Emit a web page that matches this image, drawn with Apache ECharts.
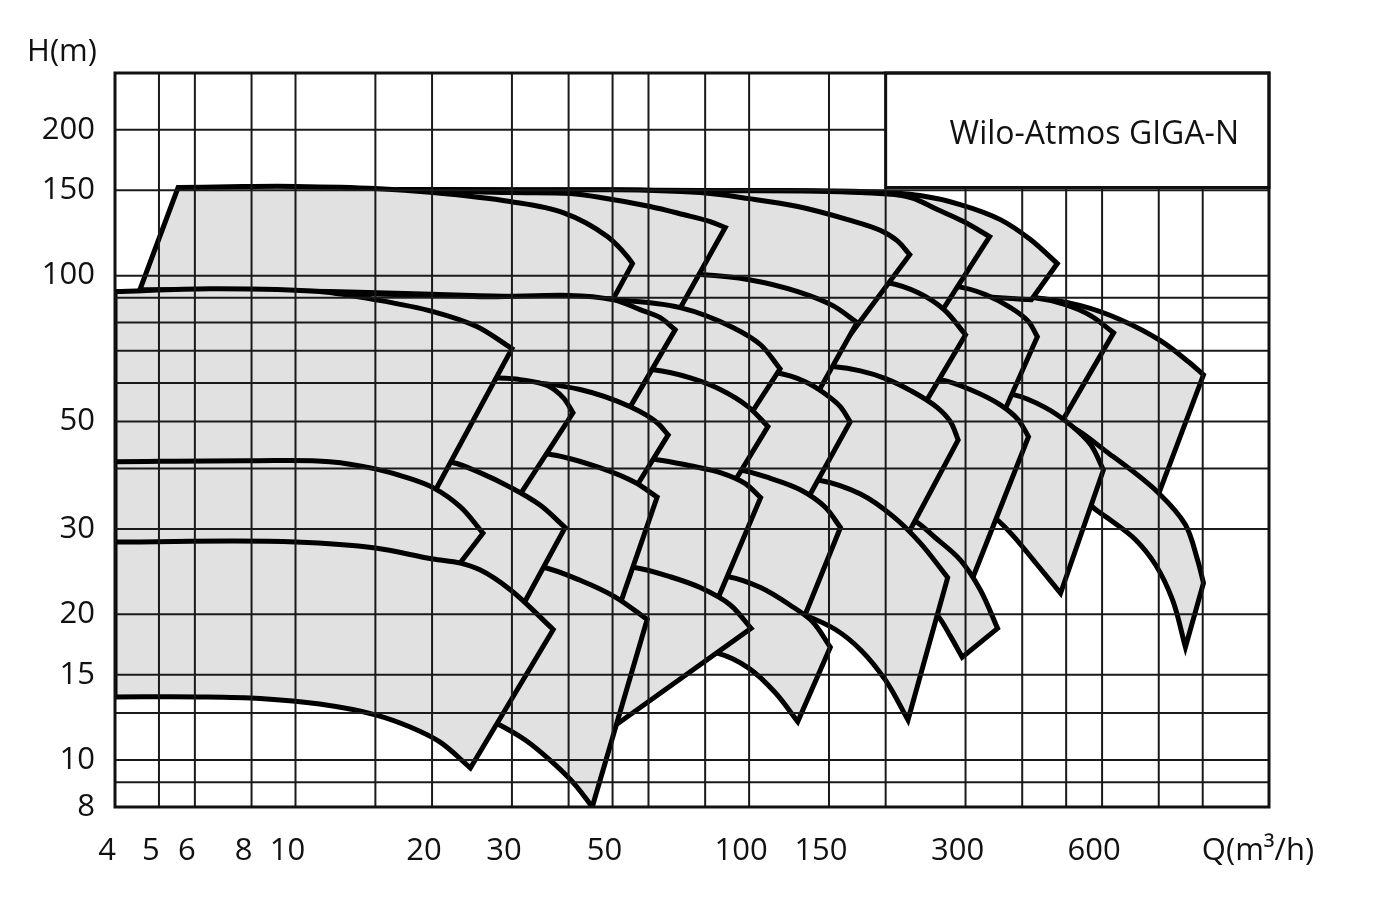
<!DOCTYPE html>
<html>
<head>
<meta charset="utf-8">
<title>Wilo-Atmos GIGA-N</title>
<script src="https://cdn.jsdelivr.net/npm/echarts@6.0.0/dist/echarts.min.js"></script>
<style>
  html, body { margin: 0; padding: 0; background: #fff; }
  #chart { width: 1375px; height: 918px; }
</style>
</head>
<body>
<div id="chart"></div>
<script>
// axis ranges (Q in m3/h, H in m)
const Q_MIN = 4, Q_MAX = 1400;
const H_MIN = 8, H_MAX = 262;

const xGridValues = [5, 6, 8, 10, 15, 20, 30, 40, 50, 60, 80, 100, 150, 200, 300, 400, 500, 600, 800, 1000];
const yGridValues = [9, 10, 12.5, 15, 20, 30, 40, 50, 60, 70, 80, 90, 100, 150, 200];
const xTickLabels = [4, 5, 6, 8, 10, 20, 30, 50, 100, 150, 300, 600];
const yTickLabels = [8, 10, 15, 20, 30, 50, 100, 150, 200];

// pump fields: top = max impeller curve (left to right, last point = upper right corner)
// bottom = min impeller curve (left to right, last point = lower right corner)
// rows: A ~150 m, B ~92 m, C ~61 m, D ~42 m, E ~28 m

// column Q ~1000
const B8 = { top: [[215, 90.9], [423, 90.1], [538, 86.7], [659, 81.1], [807, 73.4], [930, 66.4], [1004, 62.4]],
             bottom: [[358, 45.8], [595, 41.3], [791, 34.5]] };
const C9 = { top: [[358, 50.9], [486, 49.9], [626, 42.7], [799, 35.6], [916, 30.6], [974, 25.9], [1004, 23.2]],
             bottom: [[486, 39.7], [574, 33.2], [626, 31.3], [711, 28.5], [787, 25.3], [858, 21.4], [916, 17.1]] };
// column Q ~600
const B7 = { top: [[215, 90.9], [423, 90.1], [498, 87.1], [566, 82.7], [636, 76.2]],
             bottom: [[215, 50.4], [358, 49.2], [478, 48.1]] };
const C8 = { top: [[251, 57.3], [382, 56.8], [450, 53.4], [511, 49.2], [566, 44.8], [604, 39.7]],
             bottom: [[251, 39.7], [292, 36.1], [353, 31.3], [380, 29.2], [423, 25.9], [486, 22.1]] };
// column Q ~430
const A5 = { top: [[17.9, 150.6], [78, 149.8], [176, 149.1], [238, 146.3], [292, 140.2], [358, 130.5], [417, 118.7], [478, 105.9]],
             bottom: [[17.9, 91.8], [130, 90.9], [292, 90.9], [419, 89.2]] };
const B6 = { top: [[176, 95.4], [288, 94.9], [332, 91.4], [377, 85.9], [413, 80.4], [432, 74.8]],
             bottom: [[176, 52.9], [264, 52.4], [360, 50.9]] };
const C7 = { top: [[176, 61.5], [264, 61.0], [307, 58.2], [358, 54.1], [392, 50.4], [413, 46.5]],
             bottom: [[176, 27.8], [230, 25.7], [304, 22.5]] };
const E6 = { top: [[176, 33.6], [230, 31.3], [257, 28.8], [292, 25.9], [323, 22.5], [353, 18.7]],
             bottom: [[176, 25.9], [215, 23.0], [260, 19.9], [278, 18.0], [295, 16.3]] };
// column Q ~300
const A4 = { top: [[17.0, 150.6], [78, 149.8], [176, 148.4], [227, 145.0], [260, 136.9], [297, 129.3], [339, 120.4]],
             bottom: [[17.0, 91.4], [130, 89.2], [215, 87.1], [263, 83.1]] };
const B5 = { top: [[117, 97.2], [202, 96.7], [236, 92.2], [269, 85.1], [300, 75.5]],
             bottom: [[117, 55.4], [167, 54.1], [241, 53.4]] };
const C6 = { top: [[106, 65.5], [153, 64.9], [176, 63.6], [200, 61.3], [227, 57.9], [260, 53.4], [278, 49.9], [289, 45.8]],
             bottom: [[106, 35.3], [176, 33.6], [224, 29.3]] };
const E5 = { top: [[106, 38.2], [141, 37.9], [176, 35.4], [208, 31.8], [238, 28.1], [274, 23.8]],
             bottom: [[106, 21.4], [133, 19.9], [155, 18.6], [176, 16.9], [200, 14.6], [224, 12.1]] };
// column Q ~170
const A3 = { top: [[21.9, 149.8], [78, 148.4], [100, 144.2], [128, 138.9], [165, 130.5], [195, 123.9], [212, 118.1], [226, 110.5]],
             bottom: [[21.9, 92.2], [70.5, 90.9], [106, 87.1], [167, 75.5]] };
const B4 = { top: [[38.3, 101.4], [60.5, 100.9], [78, 100.5], [100, 98.1], [128, 92.7], [153, 86.7], [173, 80.0]],
             bottom: [[38.3, 58.2], [78, 56.8], [140, 56.2]] };
const C5 = { top: [[70.5, 63.9], [115, 63.0], [133, 60.4], [146, 57.3], [159, 53.6], [167, 49.9]],
             bottom: [[70.5, 37.0], [95.6, 36.1], [135, 34.8]] };
const D5 = { top: [[63.7, 40.5], [95.6, 39.7], [111, 38.2], [130, 36.1], [147, 33.3], [159, 30.2]],
             bottom: [[63.7, 21.4], [90.9, 20.2], [131, 19.3]] };
const E4 = { top: [[70.5, 24.1], [90, 23.9], [106, 22.7], [123, 20.9], [138, 19.3], [151, 17.1]],
             bottom: [[70.5, 16.9], [85.5, 16.6], [99.6, 15.5], [114, 13.8], [128, 12.0]] };
// column Q ~100
const A2 = { top: [[13.9, 150.6], [20.1, 149.8], [29.7, 148.4], [40.3, 147.7], [47, 145.0], [60.5, 138.9], [71.6, 133.7], [82.1, 129.3], [88.6, 125.7]],
             bottom: [[13.9, 91.4], [25.5, 90.5], [50.2, 88.8], [69.8, 84.3]] };
const B3 = { top: [[11.9, 92.2], [25.5, 90.5], [50.2, 89.2], [70.5, 85.9], [92.3, 78.1], [106, 72.0], [117, 64.2]],
             bottom: [[11.9, 50.4], [60.5, 50.9], [101, 51.9]] };
const C4 = { top: [[38.3, 64.5], [61.5, 63.9], [74.2, 61.5], [86.4, 58.2], [99.6, 53.6], [110, 48.8]],
             bottom: [[38.3, 38.8], [60.5, 38.2], [91.3, 36.6]] };
const D4 = { top: [[42.4, 42.5], [62.7, 41.7], [74.2, 40.5], [86.4, 39.2], [98.1, 37.2], [106, 34.8]],
             bottom: [[42.4, 22.5], [57.5, 21.4], [83.8, 20.7]] };
const E3 = { top: [[38.3, 25.3], [55.5, 25.0], [67, 23.9], [78, 22.7], [90.9, 20.9], [101, 18.7]],
             bottom: [[38.3, 11.8], [48.2, 11.4]] };
// column Q ~60
const A1 = { top: [[5.51, 152], [8.06, 152.8], [10, 152.8], [15, 151.3], [20.1, 148.4], [29.7, 142.2], [38.9, 134.9], [48.7, 120.4], [53.9, 109.5], [55.3, 105.9]],
             bottom: [[4.54, 93.6], [11.9, 92.7], [25.5, 90.9], [50.2, 89.6]] };
const B2 = { top: [[11.9, 92.2], [25.5, 90.5], [50.2, 89.2], [57.5, 85.1], [63.7, 81.9], [68.7, 77.3]],
             bottom: [[11.9, 52.4], [28.3, 52.4], [53.6, 51.9]] };
const C3 = { top: [[17, 61.5], [28.3, 61.0], [42.4, 58.2], [54.7, 53.6], [62.7, 49.7], [66.3, 46.9]],
             bottom: [[17, 37.5], [36.4, 36.5], [55.5, 35.8]] };
const D3 = { top: [[25.5, 43.3], [36.8, 42.7], [47, 40.1], [56.1, 37.4], [62.7, 34.9]],
             bottom: [[25.5, 22.5], [38.3, 21.4], [51.4, 20.4]] };
const E2 = { top: [[25.5, 25.7], [35.2, 25.0], [42.4, 23.5], [50.7, 21.7], [59.6, 19.5]],
             bottom: [[24.3, 12.6], [27.8, 11.9], [32.1, 11.0], [37.4, 9.77], [41.4, 8.88], [45.1, 8.0]] };
// column Q ~40
const C2 = { top: [[17, 62.1], [27.3, 61.5], [31.3, 61.0], [35.9, 59.3], [38.9, 56.0], [40.9, 52.1]],
             bottom: [[17, 36.1], [31, 34.9]] };
const D2 = { top: [[17, 41.7], [22.3, 41.1], [25.5, 39.2], [29.7, 36.6], [34.6, 33.6], [39.3, 30.2]],
             bottom: [[17, 23.0], [21.9, 22.5], [31.3, 20.4]] };
// column Q ~30
const B1 = { top: [[4, 92.7], [6.48, 94.0], [11.3, 92.7], [15, 89.2], [20.1, 84.3], [25.1, 78.5], [30, 70.7]],
             bottom: [[4, 39.4], [10.2, 39.0], [20.1, 35.3]] };
const C1 = { top: [[4, 41.3], [8.06, 41.5], [11.9, 41.3], [15, 39.9], [17.9, 38.1], [20.1, 36.5], [23.1, 33.3], [25.9, 29.4]],
             bottom: [[4, 26.1], [10.2, 25.9], [22.3, 24.5]] };
const E1 = { top: [[4, 28.2], [10, 28.2], [15, 27.4], [20.1, 26.0], [23.1, 25.5], [25.5, 24.7], [29.7, 22.5], [37, 18.6]],
             bottom: [[4, 13.5], [6.16, 13.5], [8.35, 13.4], [11.3, 13.05], [15, 12.4], [17.9, 11.7], [20.8, 10.9], [24.3, 9.63]] };

// big pumps first, smaller ones painted over them
const drawOrder = [B8, C9, B7, C8, A5, B6, C7, E6, A4, B5, C6, E5,
                   A3, B4, C5, D5, E4, A2, B3, C4, D4, E3,
                   A1, B2, C3, D3, E2, C2, D2, B1, C1, E1];

const FONT = '"Open Sans", "DejaVu Sans", sans-serif';

function unit(dx, dy) {
  const l = Math.hypot(dx, dy) || 1;
  return [dx / l, dy / l];
}

// smooth curve through pixel points, tangents scaled by chord length; pen is already at pts[0]
function curveThrough(pts) {
  const n = pts.length;
  if (n < 2) return '';
  const tan = [];
  for (let i = 0; i < n; i++) {
    if (i === 0) {
      tan[i] = unit(pts[1][0] - pts[0][0], pts[1][1] - pts[0][1]);
    } else if (i === n - 1) {
      tan[i] = unit(pts[i][0] - pts[i - 1][0], pts[i][1] - pts[i - 1][1]);
    } else {
      const a = unit(pts[i][0] - pts[i - 1][0], pts[i][1] - pts[i - 1][1]);
      const b = unit(pts[i + 1][0] - pts[i][0], pts[i + 1][1] - pts[i][1]);
      tan[i] = unit(a[0] + b[0], a[1] + b[1]);
    }
  }
  let d = '';
  for (let i = 0; i < n - 1; i++) {
    const p1 = pts[i], p2 = pts[i + 1];
    const l = Math.hypot(p2[0] - p1[0], p2[1] - p1[1]) / 3;
    d += ' C' + (p1[0] + tan[i][0] * l) + ',' + (p1[1] + tan[i][1] * l) + ' ' +
         (p2[0] - tan[i + 1][0] * l) + ',' + (p2[1] - tan[i + 1][1] * l) + ' ' + p2[0] + ',' + p2[1];
  }
  return d;
}

function fieldPath(field, api) {
  const top = field.top.map(p => api.coord(p));
  const bot = field.bottom.map(p => api.coord(p)).reverse();
  let d = 'M' + top[0][0] + ',' + top[0][1] + curveThrough(top);
  d += ' L' + bot[0][0] + ',' + bot[0][1] + curveThrough(bot) + ' Z';
  return d;
}

const chart = echarts.init(document.getElementById('chart'));

const option = {
  animation: false,
  backgroundColor: '#fff',
  grid: { left: 115, right: 106, top: 73, bottom: 111 },
  xAxis: {
    type: 'log', logBase: 10, min: Q_MIN, max: Q_MAX,
    axisLine: { show: false }, axisTick: { show: false },
    axisLabel: { show: false }, splitLine: { show: false }
  },
  yAxis: {
    type: 'log', logBase: 10, min: H_MIN, max: H_MAX,
    axisLine: { show: false }, axisTick: { show: false },
    axisLabel: { show: false }, splitLine: { show: false }
  },
  series: [
    {
      name: 'fields',
      type: 'custom',
      z: 2,
      silent: true,
      clip: true,
      data: drawOrder.map(f => f.top[0]),
      renderItem: (params, api) => ({
        type: 'path',
        shape: { pathData: fieldPath(drawOrder[params.dataIndex], api) },
        style: { fill: '#e1e1e1', stroke: '#000', lineWidth: 5, lineJoin: 'miter' }
      })
    },
    {
      name: 'grid',
      type: 'custom',
      z: 3,
      silent: true,
      data: [[Q_MIN, H_MIN]],
      renderItem: (params, api) => {
        const children = [];
        xGridValues.forEach(v => {
          const a = api.coord([v, H_MIN]), b = api.coord([v, H_MAX]);
          children.push({ type: 'line', shape: { x1: a[0], y1: a[1], x2: b[0], y2: b[1] },
                          style: { stroke: '#1a1a1a', lineWidth: 2 } });
        });
        yGridValues.forEach(v => {
          const a = api.coord([Q_MIN, v]), b = api.coord([Q_MAX, v]);
          children.push({ type: 'line', shape: { x1: a[0], y1: a[1], x2: b[0], y2: b[1] },
                          style: { stroke: '#1a1a1a', lineWidth: 2 } });
        });
        return { type: 'group', children };
      }
    },
    {
      name: 'frame',
      type: 'custom',
      z: 4,
      silent: true,
      data: [[Q_MIN, H_MIN]],
      renderItem: (params, api) => {
        const lo = api.coord([Q_MIN, H_MIN]);
        const hi = api.coord([Q_MAX, H_MAX]);
        const boxL = api.coord([200, 152]);
        const children = [];
        // name box
        children.push({ type: 'rect',
          shape: { x: boxL[0], y: hi[1], width: hi[0] - boxL[0], height: boxL[1] - hi[1] },
          style: { fill: '#fff', stroke: '#111', lineWidth: 3 } });
        children.push({ type: 'text', x: hi[0] - 30, y: (hi[1] + boxL[1]) / 2 + 5,
          style: { text: 'Wilo-Atmos GIGA-N', fill: '#111', font: '32px ' + FONT,
                   align: 'right', verticalAlign: 'middle' } });
        // outer border
        children.push({ type: 'rect',
          shape: { x: lo[0], y: hi[1], width: hi[0] - lo[0], height: lo[1] - hi[1] },
          style: { fill: 'none', stroke: '#111', lineWidth: 3 } });
        xTickLabels.forEach(v => {
          const p = api.coord([v, H_MIN]);
          children.push({ type: 'text', x: p[0] - 8, y: p[1] + 44,
            style: { text: String(v), fill: '#111', font: '31px ' + FONT, align: 'center', verticalAlign: 'middle' } });
        });
        yTickLabels.forEach(v => {
          const p = api.coord([Q_MIN, v]);
          children.push({ type: 'text', x: p[0] - 20, y: p[1],
            style: { text: String(v), fill: '#111', font: '31px ' + FONT, align: 'right', verticalAlign: 'middle' } });
        });
        children.push({ type: 'text', x: 62, y: 52,
          style: { text: 'H(m)', fill: '#111', font: '31px ' + FONT, align: 'center', verticalAlign: 'middle' } });
        children.push({ type: 'text', x: 1258, y: lo[1] + 44,
          style: { text: 'Q(m³/h)', fill: '#111', font: '31px ' + FONT, align: 'center', verticalAlign: 'middle' } });
        return { type: 'group', children };
      }
    }
  ]
};

chart.setOption(option);
</script>
</body>
</html>
